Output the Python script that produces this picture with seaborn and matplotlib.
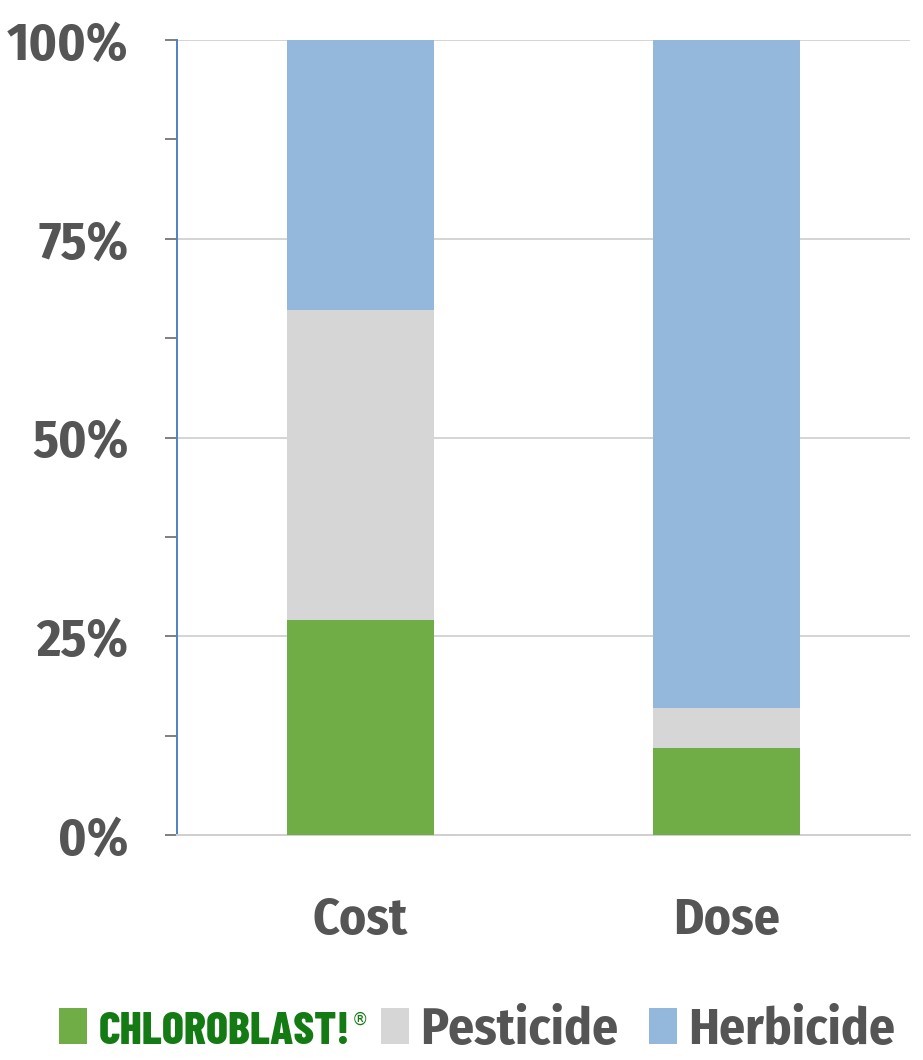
import matplotlib
matplotlib.use("Agg")
import matplotlib.pyplot as plt
from matplotlib.patches import Patch
from matplotlib.text import Annotation
from matplotlib.ticker import MultipleLocator, FixedLocator
import seaborn as sns
import pandas as pd
import numpy as np

# Share of each product type, in percent
categories = ["Cost", "Dose"]
chloroblast = [27, 11]
pesticide = [39, 5]
herbicide = [34, 84]

series_names = ["CHLOROBLAST!", "Pesticide", "Herbicide"]
colors = ["#70AD47", "#D6D6D6", "#94B8DB"]

sns.set_theme(style="white")
plt.rcParams["font.family"] = ["Fira Sans Condensed", "Liberation Sans", "DejaVu Sans"]

TEXT = "#555555"
BRAND = "#147A14"

fig = plt.figure(figsize=(9.23, 10.6), dpi=100)
ax = fig.add_axes([177 / 923, 1 - 835 / 1060, (910 - 177) / 923, (835 - 40) / 1060])

# Stacked bars: draw cumulative totals from the top layer down
layers = [chloroblast, pesticide, herbicide]
cum = np.cumsum(np.array(layers), axis=0)
for i in reversed(range(len(layers))):
    df = pd.DataFrame({"category": categories, "value": cum[i]})
    sns.barplot(data=df, x="category", y="value", color=colors[i],
                width=0.4, saturation=1, ax=ax, linewidth=0, zorder=3)

ax.set_ylim(0, 100)
ax.set_xlim(-0.5, 1.5)
ax.set_xlabel("")
ax.set_ylabel("")

# Gridlines at the labelled ticks
for y in [25, 50, 75, 100]:
    ax.axhline(y, color="#D4D4D4", linewidth=1.4, zorder=1)

ax.yaxis.set_major_locator(FixedLocator([0, 25, 50, 75, 100]))
ax.yaxis.set_minor_locator(MultipleLocator(12.5))
ax.set_yticklabels(["0%", "25%", "50%", "75%", "100%"])
ax.tick_params(axis="y", which="both", direction="out", left=True, length=9,
               width=1.2, color="#6A6A6A", pad=26)
ax.tick_params(axis="y", labelsize=38, labelcolor=TEXT)
for lab in ax.get_yticklabels():
    lab.set_fontweight("bold")
ax.tick_params(axis="x", length=0, pad=44, labelsize=37, labelcolor=TEXT)
for lab in ax.get_xticklabels():
    lab.set_fontweight("bold")

for s in ["top", "right"]:
    ax.spines[s].set_visible(False)
ax.spines["left"].set_color("#4F81C7")
ax.spines["left"].set_linewidth(1.4)
ax.spines["bottom"].set_color("#CFCFCF")
ax.spines["bottom"].set_linewidth(1.4)

handles = [Patch(facecolor=c, edgecolor="none") for c in colors]
leg = fig.legend(handles, series_names, loc="center",
                 bbox_to_anchor=(0.517, 1 - 1031 / 1060),
                 ncol=3, frameon=False, handlelength=0.54, handleheight=0.7,
                 handletextpad=0.22, columnspacing=0.6,
                 prop={"weight": "bold", "size": 37})
for t in leg.get_texts():
    t.set_color(TEXT)
brand = leg.get_texts()[0]
brand.set_color(BRAND)
brand.set_family(["Barlow Condensed", "DejaVu Sans"])
brand.set_fontweight(800)
brand.set_fontsize(33)

fig.canvas.draw()
# Small registered mark at the top right of the brand name
reg = Annotation("®", xy=(1, 1), xycoords=brand, xytext=(1, 1),
                 textcoords="offset points", ha="left", va="top",
                 fontsize=12, color=BRAND, family=["DejaVu Sans"], zorder=10)
fig.add_artist(reg)

fig.savefig("out.png", dpi=100, facecolor="white")
